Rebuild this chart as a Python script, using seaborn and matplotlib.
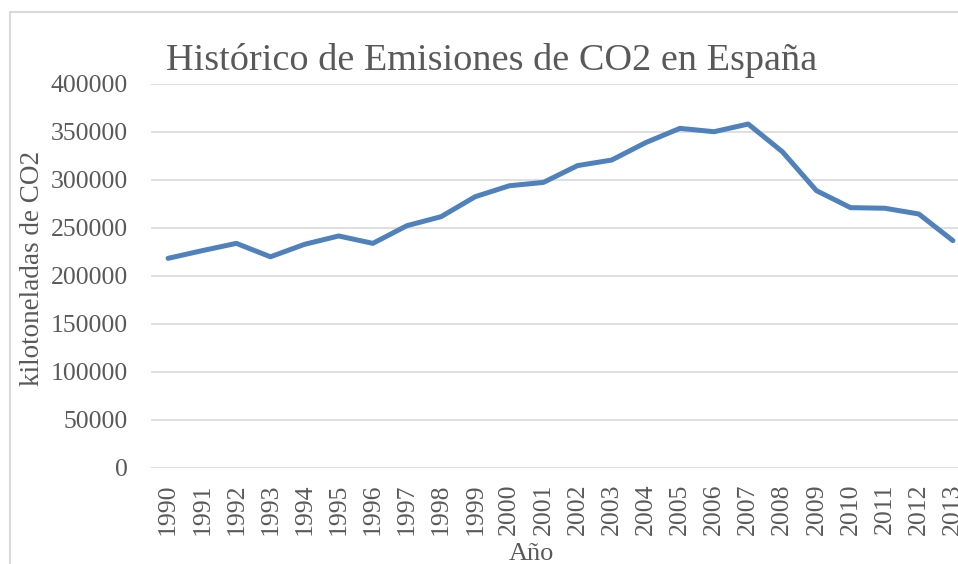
import matplotlib
matplotlib.use("Agg")
import matplotlib.pyplot as plt
import seaborn as sns
import pandas as pd
from matplotlib.patches import Rectangle

years = [str(y) for y in range(1990, 2014)]
emissions = [218400, 226400, 234000, 220000, 233000, 241700, 234000, 252400,
             261800, 282600, 294000, 297500, 315000, 320800, 339000, 353800,
             350300, 358300, 329500, 288900, 271200, 270600, 264600, 236800]
yticks = [0, 50000, 100000, 150000, 200000, 250000, 300000, 350000, 400000]

title = "Histórico de Emisiones de CO2 en España"
ylabel = "kilotoneladas de CO2"
xlabel = "Año"

sns.set_style("white")
plt.rcParams['font.family'] = ['Liberation Serif', 'DejaVu Serif']

TEXT = "#595959"
GRID = "#d9d9d9"
LINE = "#4f81bd"

W, H = 958, 564
fig = plt.figure(figsize=(W / 100, H / 100), dpi=100)
ax = fig.add_axes([151 / W, 1 - 468 / H, (970 - 151) / W, (468 - 84) / H])

df = pd.DataFrame({"idx": list(range(len(years))), "val": emissions})
sns.lineplot(data=df, x="idx", y="val", ax=ax, color=LINE, linewidth=3.6,
             solid_capstyle="round", solid_joinstyle="round", clip_on=False)

ax.set_xlim(-0.5, len(years) - 0.5)
ax.set_ylim(0, 400000)
ax.set_yticks(yticks)
ax.set_yticklabels([str(v) for v in yticks])
ax.set_xticks(range(len(years)))
ax.set_xticklabels(years, rotation=90)
ax.tick_params(axis="both", length=0, labelsize=18.5, colors=TEXT)
ax.tick_params(axis="y", pad=16.5)
ax.tick_params(axis="x", pad=11)
ax.grid(axis="y", color=GRID, linewidth=1.2)
ax.grid(axis="x", visible=False)
ax.set_axisbelow(True)
for s in ax.spines.values():
    s.set_visible(False)
ax.set_xlabel("")
ax.set_ylabel("")

fig.text(492 / W, 1 - 70 / H, title, ha="center", va="baseline",
         fontsize=27.5, color=TEXT)
fig.text(33 / W, 1 - 268 / H, ylabel, ha="center", va="center",
         rotation=90, fontsize=19.5, color=TEXT)
fig.text(531 / W, 1 - 543 / H, xlabel, ha="center", va="top",
         fontsize=19, color=TEXT)

fig.patches.append(Rectangle((10 / W, -0.1), 1.2, 1 - 12 / H + 0.1,
                             transform=fig.transFigure, fill=False,
                             edgecolor=GRID, linewidth=1.5))

fig.savefig("out.png", dpi=100)
